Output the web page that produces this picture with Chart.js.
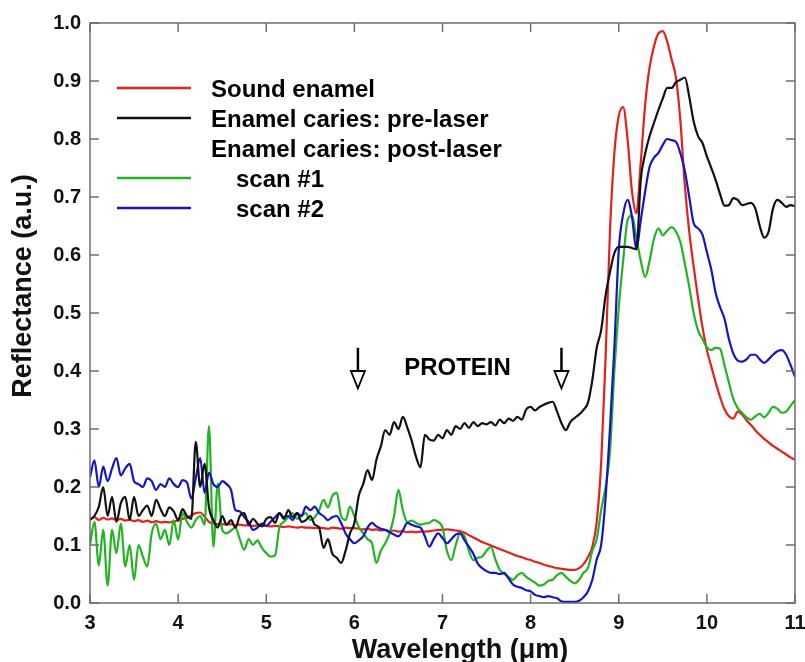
<!DOCTYPE html>
<html>
<head>
<meta charset="utf-8">
<script src="https://cdn.jsdelivr.net/npm/chart.js@4.4.1/dist/chart.umd.min.js"></script>
<style>
  html, body { margin: 0; padding: 0; background: #fff; }
  #wrap { width: 805px; height: 662px; }
</style>
</head>
<body>
<div id="wrap"><canvas id="spectra"></canvas></div>
<script>
// wavelength grid in micrometres, 0.05 step
const wavelength = [
  3.00, 3.05, 3.10, 3.15, 3.20, 3.25, 3.30, 3.35, 3.40, 3.45,
  3.50, 3.55, 3.60, 3.65, 3.70, 3.75, 3.80, 3.85, 3.90, 3.95,
  4.00, 4.05, 4.10, 4.15, 4.20, 4.25, 4.30, 4.35, 4.40, 4.45,
  4.50, 4.55, 4.60, 4.65, 4.70, 4.75, 4.80, 4.85, 4.90, 4.95,
  5.00, 5.05, 5.10, 5.15, 5.20, 5.25, 5.30, 5.35, 5.40, 5.45,
  5.50, 5.55, 5.60, 5.65, 5.70, 5.75, 5.80, 5.85, 5.90, 5.95,
  6.00, 6.05, 6.10, 6.15, 6.20, 6.25, 6.30, 6.35, 6.40, 6.45,
  6.50, 6.55, 6.60, 6.65, 6.70, 6.75, 6.80, 6.85, 6.90, 6.95,
  7.00, 7.05, 7.10, 7.15, 7.20, 7.25, 7.30, 7.35, 7.40, 7.45,
  7.50, 7.55, 7.60, 7.65, 7.70, 7.75, 7.80, 7.85, 7.90, 7.95,
  8.00, 8.05, 8.10, 8.15, 8.20, 8.25, 8.30, 8.35, 8.40, 8.45,
  8.50, 8.55, 8.60, 8.65, 8.70, 8.75, 8.80, 8.85, 8.90, 8.95,
  9.00, 9.05, 9.10, 9.15, 9.20, 9.25, 9.30, 9.35, 9.40, 9.45,
  9.50, 9.55, 9.60, 9.65, 9.70, 9.75, 9.80, 9.85, 9.90, 9.95,
  10.00, 10.05, 10.10, 10.15, 10.20, 10.25, 10.30, 10.35, 10.40, 10.45,
  10.50, 10.55, 10.60, 10.65, 10.70, 10.75, 10.80, 10.85, 10.90, 10.95,
  11.00,
];

const soundEnamel = [
  0.145, 0.148, 0.143, 0.147, 0.144, 0.146, 0.143, 0.145, 0.142, 0.144,
  0.141, 0.143, 0.140, 0.142, 0.139, 0.141, 0.139, 0.140, 0.139, 0.141,
  0.142, 0.145, 0.147, 0.151, 0.155, 0.156, 0.149, 0.140, 0.137, 0.136,
  0.136, 0.135, 0.136, 0.134, 0.135, 0.134, 0.134, 0.133, 0.134, 0.133,
  0.133, 0.132, 0.133, 0.132, 0.131, 0.132, 0.131, 0.130, 0.131, 0.130,
  0.130, 0.129, 0.130, 0.129, 0.128, 0.130, 0.129, 0.128, 0.130, 0.129,
  0.129, 0.128, 0.127, 0.128, 0.126, 0.127, 0.125, 0.126, 0.124, 0.125,
  0.123, 0.124, 0.122, 0.123, 0.122, 0.123, 0.123, 0.124, 0.125, 0.126,
  0.126, 0.127, 0.126, 0.125, 0.124, 0.121, 0.117, 0.113, 0.109, 0.105,
  0.102, 0.099, 0.096, 0.093, 0.090, 0.087, 0.084, 0.081, 0.079, 0.076,
  0.074, 0.071, 0.069, 0.066, 0.064, 0.062, 0.060, 0.059, 0.058, 0.057,
  0.057, 0.060, 0.067, 0.079, 0.097, 0.140, 0.240, 0.420, 0.640, 0.775,
  0.840, 0.855, 0.800, 0.710, 0.672, 0.760, 0.860, 0.924, 0.960, 0.982,
  0.986, 0.968, 0.937, 0.905, 0.830, 0.720, 0.640, 0.580, 0.525, 0.476,
  0.436, 0.408, 0.380, 0.355, 0.334, 0.322, 0.318, 0.330, 0.325, 0.315,
  0.307, 0.298, 0.290, 0.283, 0.277, 0.271, 0.266, 0.261, 0.256, 0.251,
  0.247,
];

const cariesPreLaser = [
  0.143, 0.150, 0.166, 0.200, 0.150, 0.183, 0.140, 0.172, 0.183, 0.143,
  0.183, 0.150, 0.160, 0.168, 0.150, 0.178, 0.162, 0.150, 0.165, 0.158,
  0.143, 0.162, 0.150, 0.145, 0.278, 0.200, 0.240, 0.165, 0.143, 0.130,
  0.150, 0.135, 0.143, 0.130, 0.150, 0.155, 0.135, 0.145, 0.137, 0.132,
  0.145, 0.148, 0.138, 0.155, 0.145, 0.160, 0.148, 0.155, 0.140, 0.143,
  0.150, 0.135, 0.130, 0.095, 0.110, 0.085, 0.078, 0.069, 0.090, 0.120,
  0.138, 0.185, 0.205, 0.229, 0.212, 0.247, 0.270, 0.298, 0.290, 0.312,
  0.300, 0.321, 0.303, 0.280, 0.252, 0.234, 0.290, 0.282, 0.280, 0.290,
  0.284, 0.298, 0.290, 0.305, 0.300, 0.310, 0.302, 0.312, 0.305, 0.310,
  0.308, 0.312, 0.306, 0.316, 0.310, 0.318, 0.314, 0.321, 0.316, 0.334,
  0.338, 0.332, 0.338, 0.342, 0.345, 0.347, 0.330, 0.310, 0.298, 0.312,
  0.319, 0.325, 0.333, 0.345, 0.384, 0.440, 0.470, 0.530, 0.570, 0.603,
  0.614, 0.614, 0.614, 0.612, 0.610, 0.730, 0.775, 0.805, 0.828, 0.850,
  0.870, 0.888, 0.888, 0.898, 0.902, 0.906, 0.873, 0.830, 0.805, 0.793,
  0.770, 0.750, 0.729, 0.705, 0.685, 0.686, 0.698, 0.695, 0.686, 0.688,
  0.690, 0.680, 0.650, 0.630, 0.640, 0.680, 0.695, 0.690, 0.683, 0.686,
  0.684,
];

const postLaserScan1 = [
  0.100, 0.140, 0.065, 0.126, 0.030, 0.126, 0.086, 0.137, 0.063, 0.100,
  0.040, 0.100, 0.080, 0.063, 0.120, 0.137, 0.110, 0.126, 0.100, 0.143,
  0.109, 0.155, 0.140, 0.130, 0.143, 0.150, 0.135, 0.305, 0.097, 0.206,
  0.126, 0.120, 0.125, 0.130, 0.110, 0.092, 0.110, 0.100, 0.108, 0.095,
  0.086, 0.080, 0.082, 0.131, 0.140, 0.148, 0.155, 0.145, 0.150, 0.155,
  0.143, 0.148, 0.160, 0.178, 0.165, 0.185, 0.190, 0.150, 0.143, 0.166,
  0.150, 0.131, 0.120, 0.110, 0.103, 0.069, 0.090, 0.103, 0.120, 0.150,
  0.195, 0.160, 0.140, 0.142, 0.138, 0.135, 0.137, 0.138, 0.143, 0.140,
  0.130, 0.090, 0.074, 0.100, 0.120, 0.115, 0.090, 0.074, 0.078, 0.080,
  0.090, 0.097, 0.075, 0.057, 0.050, 0.045, 0.040, 0.048, 0.052, 0.045,
  0.040, 0.035, 0.030, 0.032, 0.038, 0.040, 0.048, 0.052, 0.045, 0.038,
  0.034, 0.040, 0.052, 0.060, 0.090, 0.110, 0.160, 0.200, 0.260, 0.400,
  0.510, 0.590, 0.660, 0.668, 0.630, 0.590, 0.562, 0.590, 0.628, 0.646,
  0.634, 0.642, 0.648, 0.640, 0.622, 0.585, 0.545, 0.500, 0.470, 0.455,
  0.441, 0.436, 0.440, 0.438, 0.410, 0.380, 0.352, 0.336, 0.328, 0.320,
  0.316, 0.322, 0.326, 0.320, 0.328, 0.338, 0.335, 0.328, 0.330, 0.340,
  0.350,
];

const postLaserScan2 = [
  0.217, 0.246, 0.200, 0.235, 0.210, 0.232, 0.250, 0.220, 0.232, 0.240,
  0.210, 0.205, 0.200, 0.215, 0.210, 0.195, 0.205, 0.200, 0.215, 0.205,
  0.200, 0.212, 0.208, 0.180, 0.215, 0.250, 0.190, 0.225, 0.205, 0.200,
  0.210, 0.205, 0.195, 0.160, 0.158, 0.148, 0.140, 0.126, 0.130, 0.137,
  0.133, 0.140, 0.148, 0.155, 0.148, 0.150, 0.143, 0.155, 0.150, 0.166,
  0.160, 0.166, 0.155, 0.150, 0.143, 0.148, 0.150, 0.138, 0.120, 0.110,
  0.103, 0.108, 0.115, 0.130, 0.138, 0.132, 0.128, 0.126, 0.122, 0.118,
  0.115, 0.125, 0.138, 0.135, 0.132, 0.130, 0.115, 0.097, 0.110, 0.120,
  0.112, 0.103, 0.110, 0.118, 0.120, 0.108, 0.097, 0.085, 0.068, 0.060,
  0.055, 0.052, 0.052, 0.050, 0.052, 0.042, 0.032, 0.028, 0.026, 0.022,
  0.020, 0.014, 0.012, 0.010, 0.012, 0.010, 0.008, 0.003, 0.002, 0.002,
  0.002, 0.004, 0.010, 0.020, 0.040, 0.075, 0.100, 0.180, 0.300, 0.440,
  0.608, 0.670, 0.695, 0.666, 0.610, 0.660, 0.710, 0.752, 0.768, 0.776,
  0.790, 0.800, 0.798, 0.795, 0.775, 0.745, 0.700, 0.655, 0.646, 0.635,
  0.605, 0.575, 0.534, 0.510, 0.490, 0.455, 0.430, 0.418, 0.416, 0.420,
  0.428, 0.428, 0.420, 0.414, 0.420, 0.428, 0.434, 0.436, 0.428, 0.410,
  0.390,
];

// legend rows, the third row is a heading with no line
const legendLabels = ['Sound enamel', 'Enamel caries: pre-laser', 'Enamel caries: post-laser', 'scan #1', 'scan #2'];
const legendColors = ['#e3201c', '#111111', null, '#22b422', '#1414c8'];

// the two arrows marking the protein band
const proteinArrows = [6.04, 8.35];

const FONT = "'Liberation Sans', Arial, Helvetica, sans-serif";

const toPoints = (values) => values.map((v, i) => ({ x: wavelength[i], y: v }));

const lineDataset = (label, values, color) => ({
  label,
  data: toPoints(values),
  borderColor: color,
  backgroundColor: color,
  borderWidth: 2.2,
  pointRadius: 0,
  cubicInterpolationMode: 'monotone',
  fill: false,
});

// box round the plot with inward tick marks on all four sides
const framePlugin = {
  id: 'frame',
  afterDatasetsDraw(chart) {
    const { ctx, chartArea: a, scales: { x, y } } = chart;
    ctx.save();
    ctx.strokeStyle = '#6e6e6e';
    ctx.lineWidth = 1.5;
    ctx.strokeRect(a.left, a.top, a.right - a.left, a.bottom - a.top);
    ctx.beginPath();
    x.ticks.forEach((t) => {
      const px = x.getPixelForValue(t.value);
      ctx.moveTo(px, a.bottom); ctx.lineTo(px, a.bottom - 9);
      ctx.moveTo(px, a.top); ctx.lineTo(px, a.top + 9);
    });
    y.ticks.forEach((t) => {
      const py = y.getPixelForValue(t.value);
      ctx.moveTo(a.left, py); ctx.lineTo(a.left + 9, py);
      ctx.moveTo(a.right, py); ctx.lineTo(a.right - 9, py);
    });
    ctx.stroke();
    ctx.restore();
  },
};

// PROTEIN label with its two open arrows
const proteinPlugin = {
  id: 'protein',
  afterDatasetsDraw(chart) {
    const { ctx, scales: { x, y } } = chart;
    ctx.save();
    ctx.strokeStyle = '#000';
    ctx.fillStyle = '#fff';
    proteinArrows.forEach((w) => {
      const px = x.getPixelForValue(w);
      const top = y.getPixelForValue(0.44);
      const neck = y.getPixelForValue(0.40);
      const tip = y.getPixelForValue(0.37);
      ctx.lineWidth = 2.5;
      ctx.beginPath();
      ctx.moveTo(px, top); ctx.lineTo(px, neck);
      ctx.stroke();
      ctx.lineWidth = 1.8;
      ctx.beginPath();
      ctx.moveTo(px - 7, neck); ctx.lineTo(px + 7, neck); ctx.lineTo(px, tip); ctx.closePath();
      ctx.fill();
      ctx.stroke();
    });
    ctx.fillStyle = '#000';
    ctx.font = `bold 24px ${FONT}`;
    ctx.textAlign = 'center';
    ctx.textBaseline = 'middle';
    ctx.fillText('PROTEIN', x.getPixelForValue(7.17), y.getPixelForValue(0.405));
    ctx.restore();
  },
};

// legend drawn inside the plot, upper left
const legendPlugin = {
  id: 'insetLegend',
  afterDatasetsDraw(chart) {
    const { ctx, chartArea: a } = chart;
    ctx.save();
    ctx.font = `bold 24px ${FONT}`;
    ctx.textAlign = 'left';
    ctx.textBaseline = 'alphabetic';
    legendLabels.forEach((label, i) => {
      const base = a.top + 74 + i * 30;
      const color = legendColors[i];
      if (color) {
        ctx.strokeStyle = color;
        ctx.lineWidth = 2.5;
        ctx.beginPath();
        ctx.moveTo(a.left + 27, base - 9);
        ctx.lineTo(a.left + 101, base - 9);
        ctx.stroke();
      }
      ctx.fillStyle = '#000';
      const indent = label.startsWith('scan') ? 146 : 121;
      ctx.fillText(label, a.left + indent, base);
    });
    ctx.restore();
  },
};

// axis titles
const titlePlugin = {
  id: 'axisTitles',
  afterDraw(chart) {
    const { ctx, chartArea: a } = chart;
    ctx.save();
    ctx.fillStyle = '#111';
    ctx.font = `bold 27px ${FONT}`;
    ctx.textAlign = 'center';
    ctx.textBaseline = 'alphabetic';
    ctx.fillText('Wavelength (\u03bcm)', a.left + 370, a.bottom + 55);
    ctx.translate(a.left - 66, a.top + 263);
    ctx.rotate(-Math.PI / 2);
    ctx.textBaseline = 'middle';
    ctx.fillText('Reflectance (a.u.)', 0, 0);
    ctx.restore();
  },
};

const tickFont = { family: FONT, size: 20, weight: 'bold' };

new Chart(document.getElementById('spectra'), {
  type: 'line',
  data: {
    datasets: [
      lineDataset('Enamel caries: pre-laser', cariesPreLaser, legendColors[1]),
      lineDataset('Enamel caries: post-laser scan #2', postLaserScan2, legendColors[4]),
      lineDataset('Enamel caries: post-laser scan #1', postLaserScan1, legendColors[3]),
      lineDataset('Sound enamel', soundEnamel, legendColors[0]),
    ],
  },
  options: {
    responsive: true,
    maintainAspectRatio: false,
    animation: false,
    layout: { padding: { left: 0, top: 23, right: 10, bottom: 0 } },
    plugins: {
      legend: { display: false },
      tooltip: { enabled: false },
    },
    scales: {
      x: {
        type: 'linear',
        min: 3,
        max: 11,
        grid: { display: false, drawTicks: false },
        border: { display: false },
        ticks: { stepSize: 1, padding: 8, color: '#111', font: tickFont },
        afterFit: (scale) => {
          scale.height = 59;
          // keep the "11" label from pulling the plot edge inwards
          scale.paddingLeft = 0;
          scale.paddingRight = 0;
        },
      },
      y: {
        min: 0,
        max: 1,
        grid: { display: false, drawTicks: false },
        border: { display: false },
        ticks: {
          stepSize: 0.1,
          padding: 9,
          color: '#111',
          font: tickFont,
          callback: (v) => v.toFixed(1),
        },
        afterFit: (scale) => {
          scale.width = 90;
          scale.paddingTop = 0;
          scale.paddingBottom = 0;
        },
      },
    },
  },
  plugins: [framePlugin, proteinPlugin, legendPlugin, titlePlugin],
});
</script>
</body>
</html>
